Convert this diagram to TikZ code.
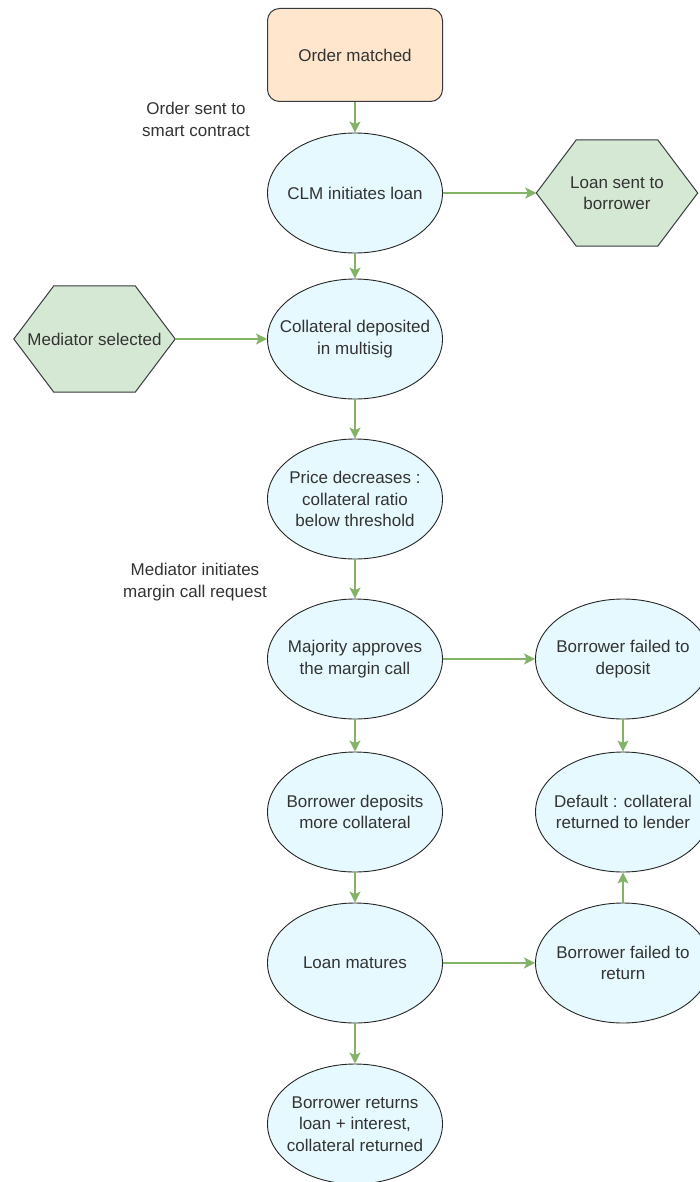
\documentclass[tikz,border=0pt]{standalone}
\usepackage{fontspec}
\setmainfont{Liberation Sans}
\usetikzlibrary{arrows.meta,backgrounds,shapes.geometric}

\definecolor{stagefill}{HTML}{E6F9FF}
\definecolor{startfill}{HTML}{FFE6CC}
\definecolor{hexfill}{HTML}{D5E8D4}
\definecolor{flowgreen}{HTML}{82B366}
\definecolor{inkgrey}{HTML}{333333}
\definecolor{rimgrey}{HTML}{36393D}

\begin{document}
\begin{tikzpicture}[x=1pt,y=-1pt,
  every node/.style={font=\fontsize{17}{21.5}\selectfont, text=inkgrey, align=center},
  startbox/.style={rectangle, rounded corners=12pt, draw=rimgrey, line width=1pt,
    fill=startfill, minimum width=175pt, minimum height=93pt, inner sep=0pt},
  stage/.style={ellipse, draw=black!85, line width=0.9pt, fill=stagefill,
    minimum width=175pt, minimum height=120pt, inner xsep=-15pt, inner ysep=0pt},
  hexbox/.style={rectangle, minimum width=161pt, minimum height=106pt, inner sep=0pt},
  hexrim/.style={draw=rimgrey, line width=1pt, fill=hexfill},
  note/.style={inner sep=0pt},
  flow/.style={draw=flowgreen, line width=1.5pt,
    -{Stealth[length=11pt,width=11pt,inset=2.5pt]}}]

\useasboundingbox (0,0) rectangle (700,1182);

% main column
\node[startbox] (matched)  at (355,55)   {Order matched};
\node[stage]    (initiate) at (355,193)  {CLM initiates loan};
\node[stage]    (deposit)  at (355,339)  {Collateral deposited\\in multisig};
\node[stage]    (price)    at (355,499)  {Price decreases :\\collateral ratio\\below threshold};
\node[stage]    (approve)  at (355,659)  {Majority approves\\the margin call};
\node[stage]    (more)     at (355,812)  {Borrower deposits\\more collateral};
\node[stage]    (mature)   at (355,963)  {Loan matures};
\node[stage]    (repaid)   at (355,1124) {Borrower returns\\loan + interest,\\collateral returned};

% right column
\node[stage]    (nodep)    at (623,659)  {Borrower failed to\\deposit};
\node[stage]    (default)  at (623,812)  {Default : collateral\\returned to lender};
\node[stage]    (noret)    at (623,963)  {Borrower failed to\\return};

% side events
\node[hexbox]   (sent)     at (617,193)  {Loan sent to\\borrower};
\node[hexbox]   (mediator) at (94.5,339) {Mediator selected};

% hexagon outlines behind the side events
\begin{scope}[on background layer]
  \foreach \h in {sent,mediator}
    \path[hexrim] (\h.west) -- ([xshift=40pt]\h.north west) -- ([xshift=-40pt]\h.north east)
      -- (\h.east) -- ([xshift=-40pt]\h.south east) -- ([xshift=40pt]\h.south west) -- cycle;
\end{scope}

% free-standing labels
\node[note] (sendnote)   at (196,119.5) {Order sent to\\smart contract};
\node[note] (marginnote) at (195,582)   {Mediator initiates\\margin call request};

% connectors
\draw[flow] (matched) -- (initiate);
\draw[flow] (initiate) -- (sent);
\draw[flow] (initiate) -- (deposit);
\draw[flow] (mediator) -- (deposit);
\draw[flow] (deposit) -- (price);
\draw[flow] (price) -- (approve);
\draw[flow] (approve) -- (nodep);
\draw[flow] (approve) -- (more);
\draw[flow] (nodep) -- (default);
\draw[flow] (more) -- (mature);
\draw[flow] (mature) -- (noret);
\draw[flow] (noret) -- (default);
\draw[flow] (mature) -- (repaid);

\end{tikzpicture}
\end{document}
